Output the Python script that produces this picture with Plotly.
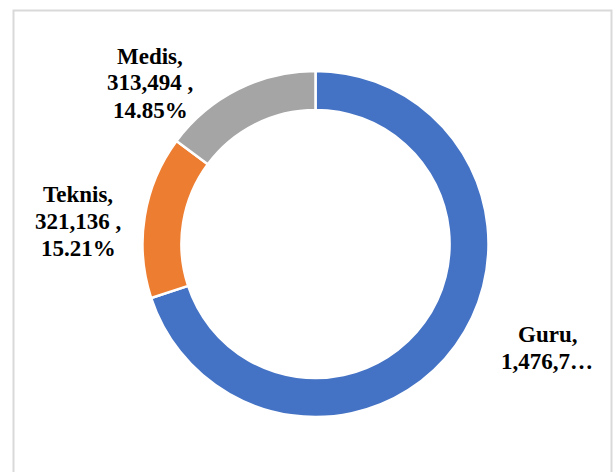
import plotly.graph_objects as go

categories = ["Guru", "Teknis", "Medis"]
values = [1476720, 321136, 313494]
label_lines = [
    ["Guru,", "1,476,7…"],
    ["Teknis,", "321,136 ,", "15.21%"],
    ["Medis,", "313,494 ,", "14.85%"],
]
colors = ["#4472C4", "#ED7D31", "#A5A5A5"]

W, H = 613, 472
cx, cy, r = 315.5, 244.0, 173.0

fig = go.Figure(go.Pie(
    labels=categories,
    values=values,
    hole=0.775,
    sort=False,
    direction="clockwise",
    rotation=0,
    marker=dict(colors=colors, line=dict(color="white", width=2.5)),
    textinfo="none",
    hoverinfo="label+value+percent",
    showlegend=False,
    domain=dict(x=[(cx - r) / W, (cx + r) / W],
                y=[(H - cy - r) / H, (H - cy + r) / H]),
))

# label block anchors: (center x, first line center y) in pixels
label_pos = [(547, 334), (78, 194), (150, 56)]
line_step = 27
font = dict(family="Liberation Serif", size=23, color="black")
for lines, (lx, ly) in zip(label_lines, label_pos):
    for i, txt in enumerate(lines):
        fig.add_annotation(
            x=lx / W, y=1 - (ly + i * line_step) / H, xref="paper", yref="paper",
            text="<b>" + txt + "</b>", showarrow=False, font=font,
            align="center", xanchor="center", yanchor="middle",
        )

fig.add_shape(type="rect", xref="paper", yref="paper",
              x0=13.5 / W, x1=611.5 / W, y0=-0.05, y1=1 - 10.5 / H,
              line=dict(color="#D9D9D9", width=2), fillcolor="rgba(0,0,0,0)")

fig.update_layout(
    width=W, height=H,
    margin=dict(l=0, r=0, t=0, b=0),
    paper_bgcolor="white", plot_bgcolor="white",
)

fig.write_html("out.html")
